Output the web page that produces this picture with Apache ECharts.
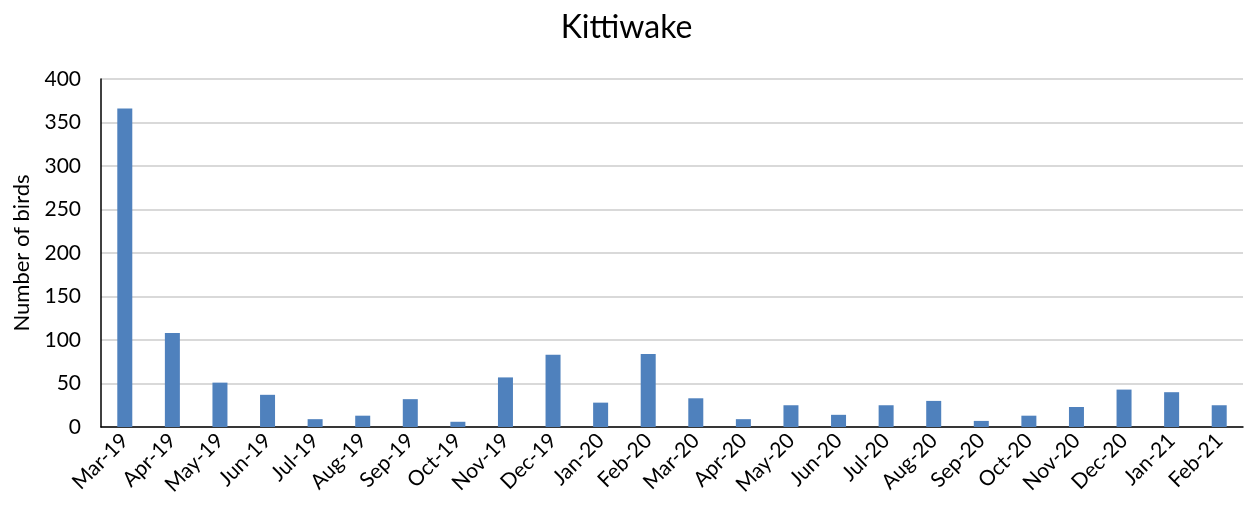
<!DOCTYPE html>
<html>
<head>
<meta charset="utf-8">
<script src="https://cdn.jsdelivr.net/npm/echarts@6/dist/echarts.min.js"></script>
<style>html,body{margin:0;padding:0;background:#fff}#c{width:1253px;height:511px}</style>
</head>
<body>
<div id="c"></div>
<script>
const categories = ['Mar-19','Apr-19','May-19','Jun-19','Jul-19','Aug-19','Sep-19','Oct-19','Nov-19','Dec-19','Jan-20','Feb-20','Mar-20','Apr-20','May-20','Jun-20','Jul-20','Aug-20','Sep-20','Oct-20','Nov-20','Dec-20','Jan-21','Feb-21'];
const birds = [366,108,51,37,9,13,32,6,57,83,28,84,33,9,25,14,25,30,7,13,23,43,40,25];
const yTicks = {min:0, max:400, interval:50};

const chart = echarts.init(document.getElementById('c'));
const font = 'Lato, "Open Sans", sans-serif';
chart.setOption({
  animation:false,
  title:{text:'Kittiwake', left:'center', top:7, textStyle:{fontFamily:font, fontSize:32, fontWeight:'normal', color:'#000'}},
  grid:{left:101, right:10, top:79, bottom:84, containLabel:false},
  xAxis:{type:'category', data:categories,
    axisLine:{lineStyle:{color:'#000', width:1.5}}, axisTick:{show:false},
    axisLabel:{rotate:45, color:'#000', fontFamily:font, fontSize:21, margin:10, interval:0}},
  yAxis:{type:'value', min:yTicks.min, max:yTicks.max, interval:yTicks.interval,
    name:'Number of birds', nameLocation:'middle', nameGap:68, nameRotate:90,
    nameTextStyle:{fontFamily:font, fontSize:22, color:'#000'},
    axisLine:{show:true, lineStyle:{color:'#000', width:1.5}}, axisTick:{show:false},
    axisLabel:{color:'#000', fontFamily:font, fontSize:21, margin:20},
    splitLine:{lineStyle:{color:'#d9d9d9', width:2}}},
  series:[{type:'bar', data:birds, barWidth:15, itemStyle:{color:'#4f81bd'}}]
});
</script>
</body>
</html>
